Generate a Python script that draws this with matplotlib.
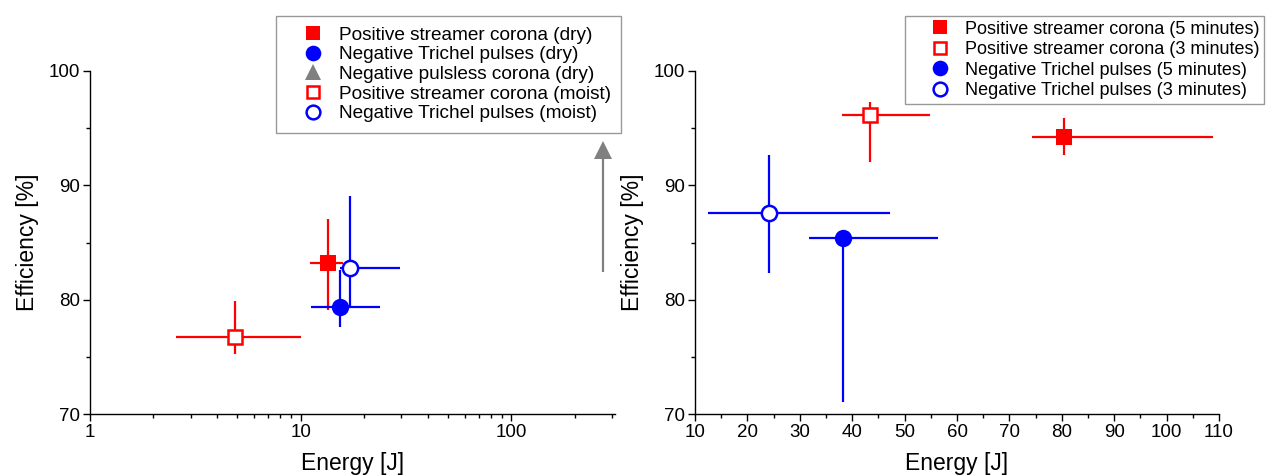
import numpy as np
import matplotlib
matplotlib.use("Agg")
import matplotlib.pyplot as plt
from matplotlib.ticker import FixedLocator, NullFormatter, FormatStrFormatter

plt.rcParams['font.family'] = ['Liberation Sans', 'DejaVu Sans']

# ---------------- Left panel data (log energy) ----------------
left_labels = ["Positive streamer corona (dry)", "Negative Trichel pulses (dry)",
               "Negative pulsless corona (dry)", "Positive streamer corona (moist)",
               "Negative Trichel pulses (moist)"]
left_x = [13.5, 15.4, 273.0, 4.87, 17.05]
left_y = [83.24, 79.4, 93.05, 76.75, 82.8]
left_x_lo = [11.1, 11.2, 273.0, 2.56, 15.4]
left_x_hi = [15.9, 23.9, 273.0, 10.0, 29.5]
left_y_lo = [79.1, 77.6, 82.4, 75.27, 79.45]
left_y_hi = [87.06, 82.6, 93.05, 79.9, 89.1]

# ---------------- Right panel data ----------------
right_labels = ["Positive streamer corona (5 minutes)", "Positive streamer corona (3 minutes)",
                "Negative Trichel pulses (5 minutes)", "Negative Trichel pulses (3 minutes)"]
right_x = [80.5, 43.4, 38.3, 24.1]
right_y = [94.2, 96.15, 85.4, 87.6]
right_x_lo = [74.4, 38.0, 31.7, 12.5]
right_x_hi = [108.9, 54.9, 56.4, 47.2]
right_y_lo = [92.65, 92.0, 71.1, 82.3]
right_y_hi = [95.85, 97.27, 86.05, 92.65]

left_styles = [dict(marker='s', color='#ff0000', fill=True, ms=11.5),
               dict(marker='o', color='#0000ff', fill=True, ms=12.5),
               dict(marker='^', color='#808080', fill=True, ms=12.5),
               dict(marker='s', color='#ff0000', fill=False, ms=10),
               dict(marker='o', color='#0000ff', fill=False, ms=11)]
right_styles = [dict(marker='s', color='#ff0000', fill=True, ms=11.5),
                dict(marker='s', color='#ff0000', fill=False, ms=10),
                dict(marker='o', color='#0000ff', fill=True, ms=12.5),
                dict(marker='o', color='#0000ff', fill=False, ms=11)]

fig = plt.figure(figsize=(12.69, 4.75), dpi=100)
axL = fig.add_axes([90/1269, 1-414.3/475, 525/1269, 343.6/475])
axR = fig.add_axes([695/1269, 1-414.3/475, 524/1269, 343.6/475])


def draw(ax, labels, xs, ys, xlo, xhi, ylo, yhi, styles):
    for i in range(len(xs)):
        st = styles[i]
        c = st['color']
        xe = [[xs[i]-xlo[i]], [xhi[i]-xs[i]]]
        ye = [[ys[i]-ylo[i]], [yhi[i]-ys[i]]]
        ax.errorbar([xs[i]], [ys[i]], xerr=xe, yerr=ye, fmt='none', ecolor=c,
                    elinewidth=1.6, capsize=0, zorder=2)
        ax.plot([xs[i]], [ys[i]], linestyle='none', marker=st['marker'],
                markersize=st['ms'], markerfacecolor=c if st['fill'] else 'white',
                markeredgecolor=c, markeredgewidth=0 if st['fill'] else 1.8,
                label=labels[i], zorder=3, clip_on=False)


draw(axL, left_labels, left_x, left_y, left_x_lo, left_x_hi, left_y_lo, left_y_hi, left_styles)
draw(axR, right_labels, right_x, right_y, right_x_lo, right_x_hi, right_y_lo, right_y_hi, right_styles)

for ax in (axL, axR):
    for s in ('top', 'right'):
        ax.spines[s].set_visible(False)
    for s in ('left', 'bottom'):
        ax.spines[s].set_linewidth(1.0)
    ax.set_ylim(70, 100)
    ax.yaxis.set_major_locator(FixedLocator([70, 80, 90, 100]))
    ax.yaxis.set_minor_locator(FixedLocator([75, 85, 95]))
    ax.tick_params(which='major', direction='out', length=5, width=1.0, labelsize=13.5, pad=2)
    ax.tick_params(which='minor', direction='out', length=3, width=1.0)
    ax.set_ylabel("Efficiency [%]", fontsize=16.5, labelpad=7)
    ax.set_xlabel("Energy [J]", fontsize=16.5, labelpad=8)

axL.set_xscale('log')
axL.set_xlim(1, 310)
axL.xaxis.set_major_locator(FixedLocator([1, 10, 100]))
axL.xaxis.set_major_formatter(FormatStrFormatter('%g'))
axL.xaxis.set_minor_locator(FixedLocator([2, 3, 4, 5, 6, 7, 8, 9, 20, 30, 40, 50, 60, 70, 80, 90, 200, 300]))
axL.xaxis.set_minor_formatter(NullFormatter())

axR.set_xlim(10, 110)
axR.xaxis.set_major_locator(FixedLocator(list(range(10, 111, 10))))
axR.xaxis.set_minor_locator(FixedLocator(list(range(15, 110, 10))))

legend_opts = [
    (axL, (621/1269, 1-16/475), dict(fontsize=13.7, handlelength=2.8, handletextpad=-0.08,
                                     labelspacing=0.12, borderpad=0.55)),
    (axR, (1264/1269, 1-16/475), dict(fontsize=13, handlelength=3.3, handletextpad=-0.25,
                                      labelspacing=0.2, borderpad=0.25)),
]
for ax, anchor, kw in legend_opts:
    leg = ax.legend(loc='upper right', bbox_to_anchor=anchor, bbox_transform=fig.transFigure,
                    frameon=True, fancybox=False, edgecolor='#808080',
                    borderaxespad=0, markerscale=0.9, **kw)
    leg.get_frame().set_linewidth(1.0)

fig.savefig("out.png", dpi=100)
